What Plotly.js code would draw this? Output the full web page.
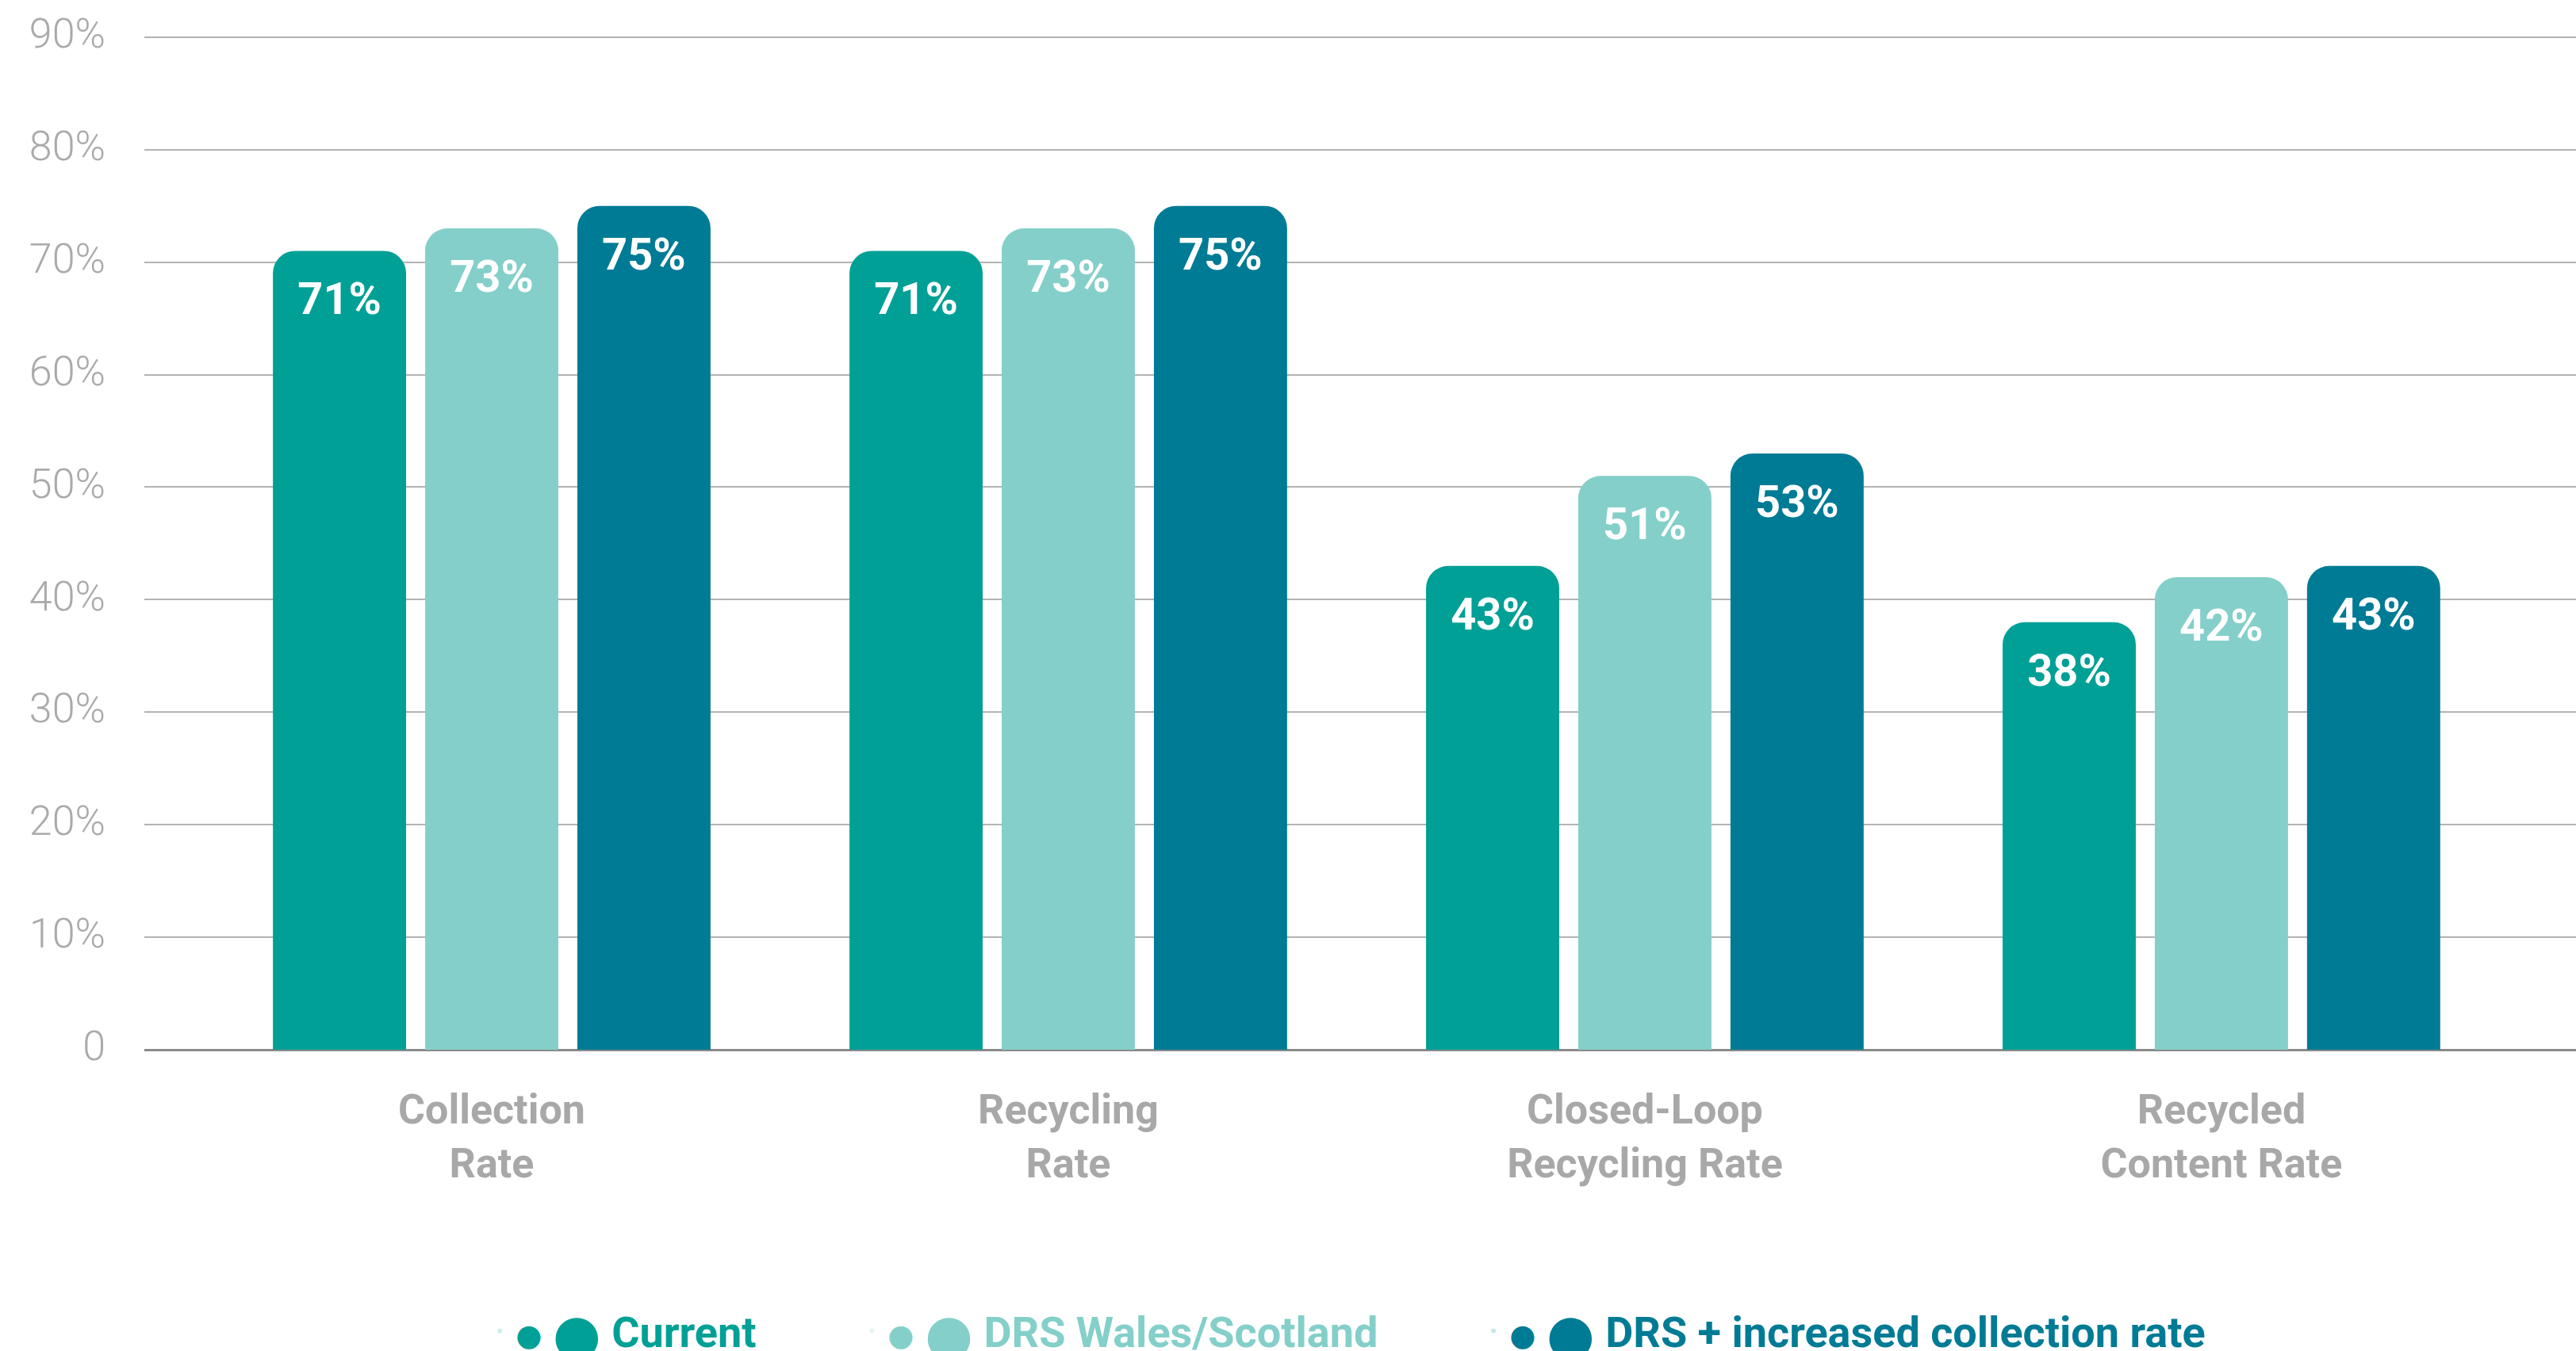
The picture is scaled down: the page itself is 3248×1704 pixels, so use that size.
<!DOCTYPE html>
<html><head><meta charset="utf-8">
<script src="https://cdn.plot.ly/plotly-3.0.1.min.js"></script>
<style>html,body{margin:0;padding:0;background:#fff}#chart{width:3248px;height:1704px}</style>
</head><body><div id="chart"></div>
<script>
const categories = ["Collection<br>Rate", "Recycling<br>Rate", "Closed-Loop<br>Recycling Rate", "Recycled<br>Content Rate"];
const seriesNames = ["Current", "DRS Wales/Scotland", "DRS + increased collection rate"];
const current = [71, 71, 43, 38];
const drsWalesScotland = [73, 73, 51, 42];
const drsIncreased = [75, 75, 53, 43];
const yTickValues = [0, 10, 20, 30, 40, 50, 60, 70, 80, 90];
const yTickLabels = ["0", "10%", "20%", "30%", "40%", "50%", "60%", "70%", "80%", "90%"];
const colors = ["#00A096", "#84CFC9", "#007B95"];

const seriesValues = [current, drsWalesScotland, drsIncreased];
const legendPad = ['&nbsp;'.repeat(9), '&nbsp;'.repeat(9), ''];
const traces = [];
seriesValues.forEach((vals, i) => {
  traces.push({
    type: 'bar', x: categories, y: vals, name: seriesNames[i],
    marker: {color: colors[i], cornerradius: 28, line: {width: 0}},
    offsetgroup: 'g' + i,
    hoverinfo: 'skip', showlegend: false
  });
});
seriesValues.forEach((vals, i) => {
  traces.push({
    type: 'scatter', mode: 'markers+text', x: categories, y: vals,
    texttemplate: '%{y}%', textposition: 'bottom center',
    textfont: {family: 'Roboto', size: 56, color: '#ffffff', weight: 700},
    marker: {size: 59, opacity: 0}, offsetgroup: 'g' + i,
    hoverinfo: 'skip', showlegend: false, cliponaxis: false
  });
});
const dotStyle = "font-family:'DejaVu Sans';";
seriesNames.forEach((nm, i) => {
  traces.push({
    type: 'scatter', mode: 'markers', x: [null], y: [null],
    marker: {opacity: 0, color: colors[i]},
    name: '<span style="color:' + colors[i] + '"><span style="' + dotStyle + 'font-size:38px;baseline-shift:2px">●</span>&nbsp;<span style="' + dotStyle + 'font-size:70px;baseline-shift:-8px">●</span>&nbsp;' + nm + legendPad[i] + '</span>',
    showlegend: true, hoverinfo: 'skip'
  });
});

const layout = {
  width: 3248, height: 1704,
  paper_bgcolor: '#ffffff', plot_bgcolor: '#ffffff',
  margin: {l: 182, r: 0, t: 0, b: 380, autoexpand: false},
  barmode: 'group', bargap: 0.208, bargroupgap: 0.125,
  scattermode: 'group', scattergap: 0.208,
  showlegend: true,
  xaxis: {
    range: [-0.6025, 3.615], showgrid: false, showline: false, zeroline: false, ticks: '',
    tickfont: {family: 'Roboto', size: 52, color: '#A8A8A8', weight: 700},
    ticklabelstandoff: 40
  },
  yaxis: {
    range: [0, 93.3], tickvals: yTickValues, ticktext: yTickLabels,
    showgrid: true, gridcolor: '#b3b3b3', gridwidth: 2,
    zeroline: true, zerolinecolor: '#8a8a8a', zerolinewidth: 3,
    showline: false, ticks: '',
    tickfont: {family: 'Roboto', size: 52, color: '#AAAAAA', weight: 300},
    ticklabelstandoff: 48, ticklabelshift: -5
  },
  legend: {
    orientation: 'h', x: 0.4945, xanchor: 'center', y: -0.268, yanchor: 'middle',
    font: {family: 'Roboto', size: 54, weight: 700, color: '#00A096'},
    itemwidth: 30, bgcolor: 'rgba(0,0,0,0)'
  }
};

Plotly.newPlot('chart', traces, layout, {displayModeBar: false, staticPlot: true});
</script>
</body></html>
